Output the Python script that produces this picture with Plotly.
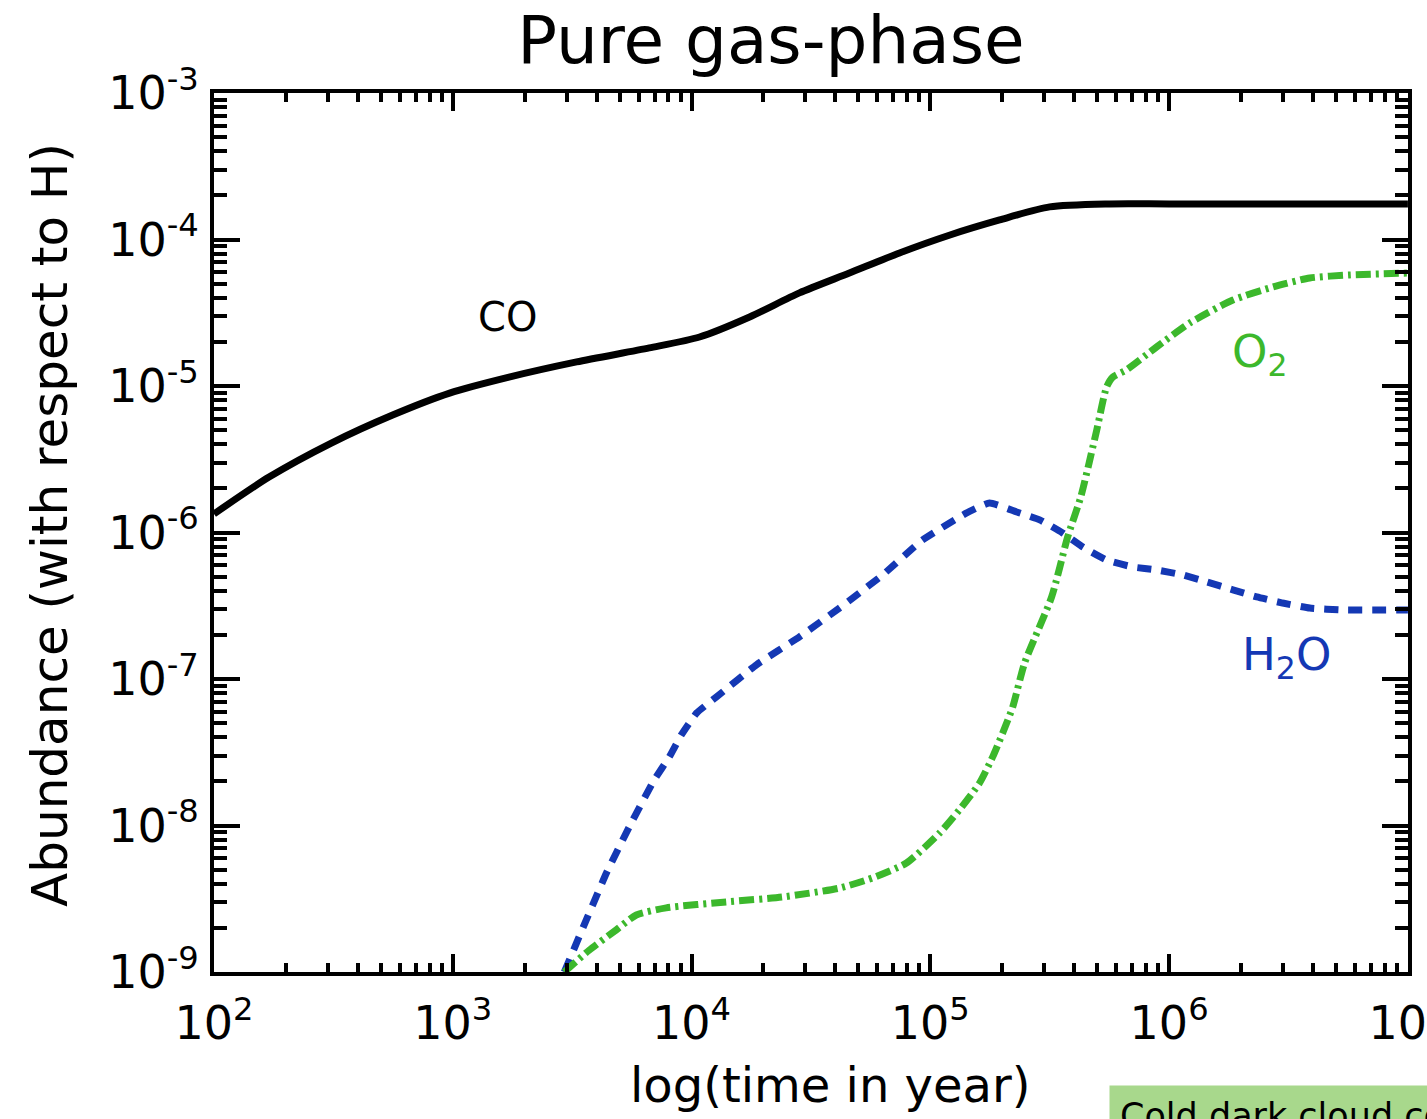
import plotly.graph_objects as go

# Time grid (years) and abundances relative to H for each species
co_time = [1.0e2, 1.7e2, 3.1e2, 5.6e2, 9.7e2, 1.72e3, 3.3e3, 6.65e3, 1.08e4, 1.75e4,
           2.83e4, 4.58e4, 7.43e4, 1.2e5, 1.95e5, 3.16e5, 5.64e5, 1.0e6, 1.0e7]
co_abund = [1.34e-6, 2.39e-6, 4.08e-6, 6.34e-6, 8.95e-6, 1.15e-5, 1.46e-5, 1.82e-5, 2.16e-5, 2.96e-5,
            4.32e-5, 5.9e-5, 8.1e-5, 1.07e-4, 1.36e-4, 1.67e-4, 1.75e-4, 1.75e-4, 1.75e-4]

h2o_time = [2.93e3, 3.62e3, 4.4e3, 5.48e3, 6.98e3, 8.07e3, 9.06e3, 1.05e4, 1.27e4, 1.87e4,
            2.83e4, 4.16e4, 6.31e4, 9.27e4, 1.42e5, 1.77e5, 2.3e5, 2.87e5, 3.58e5, 4.35e5,
            5.47e5, 7.03e5, 8.87e5, 1.14e6, 1.44e6, 1.85e6, 2.33e6, 2.99e6, 3.88e6, 5.35e6, 1.0e7]
h2o_abund = [1.0e-9, 2.26e-9, 4.74e-9, 9.77e-9, 2.05e-8, 2.94e-8, 4.15e-8, 5.86e-8, 7.53e-8, 1.25e-7,
             1.94e-7, 3.05e-7, 5.13e-7, 8.89e-7, 1.36e-6, 1.59e-6, 1.38e-6, 1.22e-6, 9.93e-7, 7.96e-7,
             6.49e-7, 5.82e-7, 5.55e-7, 5.13e-7, 4.59e-7, 4.06e-7, 3.63e-7, 3.3e-7, 3.05e-7, 2.96e-7, 2.96e-7]

o2_time = [2.93e3, 3.73e3, 4.84e3, 5.87e3, 7.83e3, 1.4e4, 2.4e4, 4.16e4, 5.73e4, 7.94e4,
           1.094e5, 1.324e5, 1.607e5, 1.824e5, 2.009e5, 2.213e5, 2.483e5, 3.221e5, 3.758e5, 4.266e5,
           4.977e5, 5.47e5, 5.808e5, 6.637e5, 8.872e5, 1.22e6, 1.85e6, 2.72e6, 3.88e6, 5.71e6, 1.0e7]
o2_abund = [1.0e-9, 1.41e-9, 1.94e-9, 2.45e-9, 2.74e-9, 3.01e-9, 3.25e-9, 3.74e-9, 4.39e-9, 5.55e-9,
            8.89e-9, 1.28e-8, 1.95e-8, 2.94e-8, 4.28e-8, 6.44e-8, 1.29e-7, 3.63e-7, 9.31e-7, 1.75e-6,
            5.01e-6, 9.84e-6, 1.15e-5, 1.29e-5, 1.85e-5, 2.69e-5, 3.86e-5, 4.74e-5, 5.46e-5, 5.73e-5, 5.9e-5]

# Axis decades and labels
x_ticks = [1e2, 1e3, 1e4, 1e5, 1e6, 1e7]
x_labels = ["10<sup>2</sup>", "10<sup>3</sup>", "10<sup>4</sup>", "10<sup>5</sup>", "10<sup>6</sup>", "10<sup>7</sup>"]
y_ticks = [1e-9, 1e-8, 1e-7, 1e-6, 1e-5, 1e-4, 1e-3]
y_labels = ["10<sup>-9</sup>", "10<sup>-8</sup>", "10<sup>-7</sup>", "10<sup>-6</sup>",
            "10<sup>-5</sup>", "10<sup>-4</sup>", "10<sup>-3</sup>"]

BLACK = "#000000"
BLUE = "#1438b4"
GREEN = "#3cb82c"
FONT = "DejaVu Sans"

# figure geometry (pixels)
W, H = 1427, 1119
ML, MR, MT, MB = 214, 19, 93, 147
PW, PH = W - ML - MR, H - MT - MB


def px_x(p):
    return (p - ML) / PW


def px_y(p):
    return (H - MB - p) / PH


x_minor = [m * 10 ** e for e in range(2, 7) for m in range(2, 10)]
y_minor = [m * 10.0 ** e for e in range(-9, -3) for m in range(2, 10)]

fig = go.Figure()
fig.add_trace(go.Scatter(x=co_time, y=co_abund, mode="lines",
                         line=dict(color=BLACK, width=7, shape="spline", smoothing=0.7), name="CO"))
fig.add_trace(go.Scatter(x=h2o_time, y=h2o_abund, mode="lines",
                         line=dict(color=BLUE, width=7, dash="14px,10px", shape="spline", smoothing=0.4),
                         name="H2O"))
fig.add_trace(go.Scatter(x=o2_time, y=o2_abund, mode="lines",
                         line=dict(color=GREEN, width=7, dash="15px,5px,3px,5px", shape="spline", smoothing=0.6),
                         name="O2"))

axis_common = dict(
    showline=True, linecolor=BLACK, linewidth=4, mirror="ticks",
    ticks="inside", tickcolor=BLACK, tickwidth=4,
    showgrid=False, zeroline=False, tickmode="array",
    tickfont=dict(family=FONT, size=46, color=BLACK),
    ticklabeloverflow="allow", automargin=False,
)

fig.update_xaxes(type="log", range=[2, 7.0004], tickvals=x_ticks, ticktext=x_labels,
                 ticklen=18, ticklabelstandoff=8,
                 minor=dict(tickvals=x_minor, ticks="inside", ticklen=9, tickwidth=4,
                            tickcolor=BLACK, showgrid=False),
                 **axis_common)
fig.update_yaxes(type="log", range=[-9, -3], tickvals=y_ticks, ticktext=y_labels,
                 ticklen=26, ticklabelstandoff=2,
                 minor=dict(tickvals=y_minor, ticks="inside", ticklen=13, tickwidth=4,
                            tickcolor=BLACK, showgrid=False),
                 **axis_common)

annotations = [
    dict(text="CO", x=3.23, y=-4.53, xref="x", yref="y", showarrow=False,
         font=dict(family=FONT, size=40, color=BLACK)),
    dict(text="O<sub>2</sub>", x=6.38, y=-4.78, xref="x", yref="y", showarrow=False,
         font=dict(family=FONT, size=45, color=GREEN)),
    dict(text="H<sub>2</sub>O", x=6.49, y=-6.85, xref="x", yref="y", showarrow=False,
         font=dict(family=FONT, size=45, color=BLUE)),
    dict(text="Abundance (with respect to H)", x=px_x(50), y=px_y(525),
         xref="paper", yref="paper", xanchor="center", yanchor="middle",
         showarrow=False, textangle=-90, font=dict(family=FONT, size=50, color=BLACK)),
    dict(text="log(time in year)", x=px_x(830), y=px_y(1085),
         xref="paper", yref="paper", xanchor="center", yanchor="middle",
         showarrow=False, font=dict(family=FONT, size=48, color=BLACK)),
    dict(text="Cold dark cloud conditions", xref="paper", yref="paper",
         x=px_x(1109), y=px_y(1085), xanchor="left", yanchor="top",
         showarrow=False, align="left", bgcolor="#a8d88c", borderpad=10,
         font=dict(family=FONT, size=35, color=BLACK)),
]

fig.update_layout(
    width=W, height=H,
    margin=dict(l=ML, r=MR, t=MT, b=MB, autoexpand=False),
    paper_bgcolor="white", plot_bgcolor="white",
    showlegend=False,
    title=dict(text="Pure gas-phase", x=771 / W, xanchor="center",
               y=1 - 40 / H, yanchor="middle",
               font=dict(family=FONT, size=66, color=BLACK)),
    annotations=annotations,
)

fig.write_html("out.html")
